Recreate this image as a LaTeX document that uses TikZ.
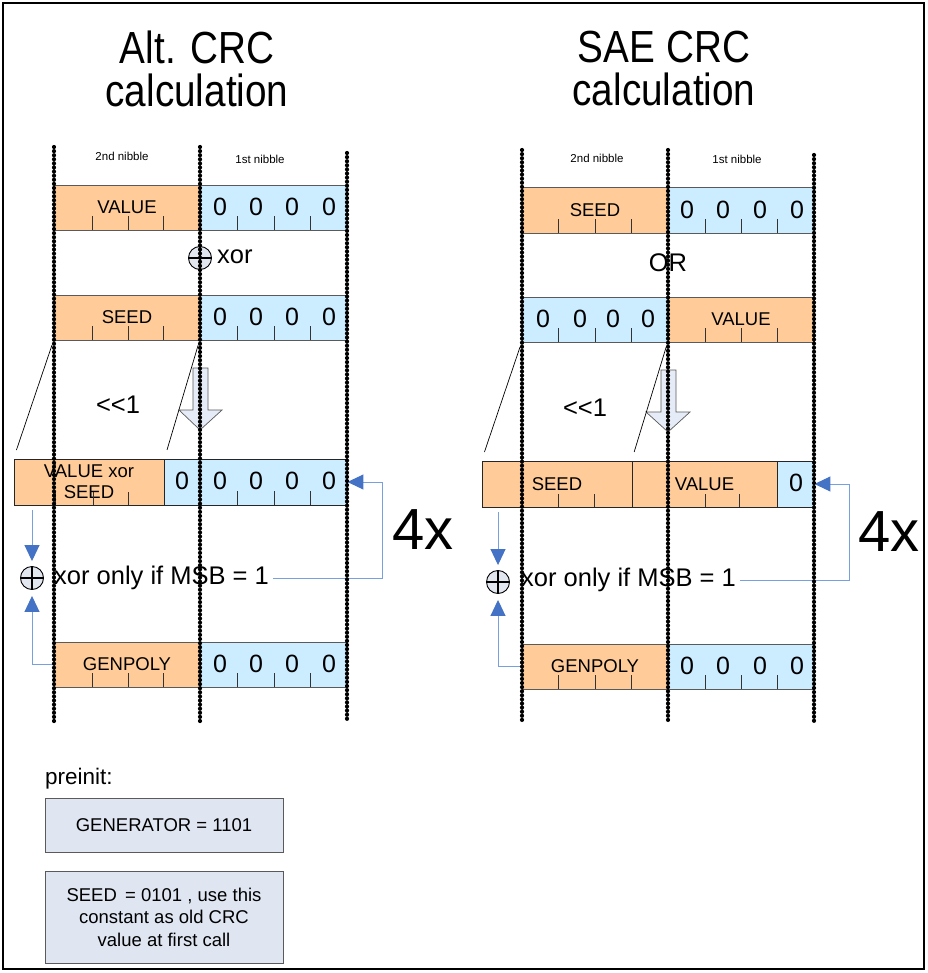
\documentclass[tikz,border=0pt]{standalone}
\usepackage{fontspec}
\setmainfont{Liberation Sans}
\newfontfamily\titlefont[FakeStretch=0.86]{Liberation Sans}
\usetikzlibrary{arrows.meta}
\definecolor{orangefill}{RGB}{255,204,153}
\definecolor{bluefill}{RGB}{204,236,255}
\definecolor{edgegray}{RGB}{90,90,90}
\definecolor{fbline}{RGB}{120,160,220}
\definecolor{fbhead}{RGB}{68,114,196}
\definecolor{notefill}{RGB}{223,230,242}
\definecolor{hollowfill}{RGB}{230,236,247}
\definecolor{xorfill}{RGB}{226,230,238}
\tikzset{
  obox/.style={draw=edgegray, line width=0.9pt, fill=orangefill, inner sep=0pt,
    font=\fontsize{18.5}{21}\selectfont, align=center},
  bbox/.style={draw=edgegray, line width=0.9pt, fill=bluefill, inner sep=0pt,
    font=\fontsize{25}{25}\selectfont},
  digit/.style={inner sep=0pt, font=\fontsize{25}{25}\selectfont},
  tick/.style={draw=black!80, line width=0.8pt},
  beads/.style={line width=4.2pt, dash pattern=on 0pt off 4.1pt, line cap=round},
  nibble/.style={inner sep=0pt, font=\fontsize{11.5}{12}\selectfont},
  big/.style={inner sep=2pt, font=\fontsize{25.5}{27}\selectfont},
  loopcount/.style={inner sep=0pt, font=\fontsize{58}{58}\selectfont},
  titletext/.style={inner sep=0pt, align=center, font=\titlefont\fontsize{45}{43}\selectfont},
  slant/.style={draw=black, line width=0.7pt},
  hollow/.style={draw=black!65, fill=hollowfill, line width=0.7pt},
  oplus/.style={circle, draw=black, line width=0.9pt, fill=xorfill, minimum size=23pt, inner sep=0pt,
    path picture={\draw[line width=1.1pt]
      (path picture bounding box.north) -- (path picture bounding box.south)
      (path picture bounding box.west) -- (path picture bounding box.east);}},
  fb/.style={draw=fbline, line width=1pt,
    -{Triangle[length=16pt,width=15pt,color=fbhead,fill=fbhead]}},
  note/.style={draw=edgegray, line width=0.9pt, fill=notefill, inner sep=0pt, align=center,
    font=\fontsize{18.5}{22.5}\selectfont},
}
\begin{document}
\begin{tikzpicture}[x=1pt,y=-1pt]
\useasboundingbox (0,0) rectangle (927,973);
\draw[line width=1.2pt] (3,3) rectangle (924,969);

% titles
\node[titletext] (tl) at (197,69) {Alt. CRC\\calculation};
\node[titletext] (tr) at (664,69) {SAE CRC\\calculation};

% ================= LEFT PANEL =================
\node[nibble] (ln2) at (122,156) {2nd nibble};
\node[nibble] (ln1) at (260,159) {1st nibble};

% row 1
\node[obox, minimum width=146pt, minimum height=45pt] (L1o) at (127,207.5) {VALUE};
\node[bbox, minimum width=147pt, minimum height=45pt] (L1b) at (273.5,207.5) {};
\foreach \x [count=\i] in {220,256,292,329} \node[digit] (L1d\i) at (\x,207) {0};
\foreach \x in {92,128,163,237,274,310} \draw[tick] (\x,230) -- (\x,216);

% xor
\node[oplus] (Lxor1) at (200,258) {};
\node[big, anchor=west] (Lxort) at (215,257) {xor};

% row 2
\node[obox, minimum width=146pt, minimum height=45pt] (L2o) at (127,317.5) {SEED};
\node[bbox, minimum width=147pt, minimum height=45pt] (L2b) at (273.5,317.5) {};
\foreach \x [count=\i] in {220,256,292,329} \node[digit] (L2d\i) at (\x,317) {0};
\foreach \x in {92,128,163,237,274,310} \draw[tick] (\x,340) -- (\x,326);

% shift
\node[big] (Lshift) at (118,405) {<{}<1};
\draw[hollow] (193,368) -- (208,368) -- (208,410) -- (222,410) -- (200,430) -- (179,410) -- (193,410) -- cycle;

% row 3
\node[obox, draw=black!85, minimum width=150pt, minimum height=46pt] (L3o) at (89,482) {VALUE xor\\SEED};
\node[bbox, draw=black!85, minimum width=183pt, minimum height=46pt] (L3b) at (255.5,482) {};
\foreach \x [count=\i] in {182,220,256,292,329} \node[digit] (L3d\i) at (\x,481) {0};
\foreach \x in {55,93,128} \draw[tick] (\x,505) -- (\x,492);
\foreach \x in {237,274,310} \draw[tick] (\x,505) -- (\x,491);
\draw[slant, shorten <=5pt, shorten >=9pt] (L2o.south west) -- (L3o.north west);
\draw[slant, shorten <=5pt, shorten >=9pt] (L2b.south west) -- (L3o.north east);

% row 4
\node[obox, minimum width=146pt, minimum height=45pt] (L4o) at (127,664.5) {GENPOLY};
\node[bbox, minimum width=147pt, minimum height=45pt] (L4b) at (273.5,664.5) {};
\foreach \x [count=\i] in {220,256,292,329} \node[digit] (L4d\i) at (\x,664) {0};
\foreach \x in {92,128,163,237,274,310} \draw[tick] (\x,687) -- (\x,673);

% conditional xor and loop
\node[oplus] (Lx) at (32,578) {};
\node[big, anchor=west] (Lcond) at (52,578) {xor only if MSB = 1};
\coordinate (Lloop) at (382,578);
\draw[fb, shorten <=5pt, shorten >=5pt] (L3o.south -| Lx) -- (Lx.north);
\draw[fb, shorten >=6pt] (L4o.west) -| (Lx.south);
\draw[fb, shorten <=2pt] (Lcond.east) -- (Lloop) |- (L3b.east);
\node[loopcount] (L4x) at (423,530) {4x};

% ================= RIGHT PANEL =================
\node[nibble] (rn2) at (597,158) {2nd nibble};
\node[nibble] (rn1) at (737,159) {1st nibble};

% row 1
\node[obox, minimum width=146pt, minimum height=46pt] (R1o) at (595,210) {SEED};
\node[bbox, minimum width=146pt, minimum height=46pt] (R1b) at (741,210) {};
\foreach \x [count=\i] in {687,723,760,797} \node[digit] (R1d\i) at (\x,210) {0};
\foreach \x in {558,595,631,705,741,777} \draw[tick] (\x,233) -- (\x,219);

\node[big] (Ror) at (668,263) {OR};

% row 2
\node[bbox, minimum width=146pt, minimum height=45pt] (R2b) at (595,319.5) {};
\node[obox, minimum width=146pt, minimum height=45pt] (R2o) at (741,319.5) {VALUE};
\foreach \x [count=\i] in {543,580,613,648} \node[digit] (R2d\i) at (\x,319) {0};
\foreach \x in {558,595,631,705,741,777} \draw[tick] (\x,342) -- (\x,328);

% shift
\node[big] (Rshift) at (585,408) {<{}<1};
\draw[hollow] (661,370) -- (676,370) -- (676,412) -- (690,412) -- (668,432) -- (646,412) -- (661,412) -- cycle;

% row 3
\node[obox, draw=black!85, minimum width=150pt, minimum height=46pt] (R3s) at (557,484) {SEED};
\node[obox, draw=black!85, minimum width=145pt, minimum height=46pt] (R3v) at (704.5,484) {VALUE};
\node[bbox, draw=black!85, minimum width=37pt, minimum height=46pt] (R3z) at (795.5,484) {};
\node[digit] (R3d1) at (796,483) {0};
\foreach \x in {522,558,594,668,705,739} \draw[tick] (\x,507) -- (\x,494);
\draw[slant, shorten <=5pt, shorten >=9pt] (R2b.south west) -- (R3s.north west);
\draw[slant, shorten <=5pt, shorten >=9pt] (R2o.south west) -- (R3v.north west);

% row 4
\node[obox, minimum width=146pt, minimum height=45pt] (R4o) at (595,666.5) {GENPOLY};
\node[bbox, minimum width=146pt, minimum height=45pt] (R4b) at (741,666.5) {};
\foreach \x [count=\i] in {687,723,760,797} \node[digit] (R4d\i) at (\x,666) {0};
\foreach \x in {558,595,631,705,741,777} \draw[tick] (\x,689) -- (\x,675);

% conditional xor and loop
\node[oplus] (Rx) at (498,582) {};
\node[big, anchor=west] (Rcond) at (519,580) {xor only if MSB = 1};
\coordinate (Rloop) at (849,580);
\draw[fb, shorten <=5pt, shorten >=5pt] (R3s.south -| Rx) -- (Rx.north);
\draw[fb, shorten >=6pt] (R4o.west) -| (Rx.south);
\draw[fb, shorten <=2pt] (Rcond.east) -- (Rloop) |- (R3z.east);
\node[loopcount] (R4x) at (889,532) {4x};

% ================= dotted nibble boundaries (on top) =================
\draw[beads] (54,147) -- (54,721);
\draw[beads] (200,147) -- (200,721);
\draw[beads] (347,153) -- (347,721);
\draw[beads] (522,150) -- (522,721);
\draw[beads] (668,150) -- (668,721);
\draw[beads] (814,155) -- (814,721);

% ================= preinit =================
\node[inner sep=0pt, anchor=west, font=\fontsize{22.5}{24}\selectfont] (pre) at (45,779) {preinit:};
\node[note, minimum width=238pt, minimum height=54pt] (gen) at (164,825) {GENERATOR = 1101};
\node[note, minimum width=238pt, minimum height=92pt] (seed) at (164,917)
  {SEED\, = 0101 , use this\\constant as old CRC\\value at first call};
\end{tikzpicture}
\end{document}
